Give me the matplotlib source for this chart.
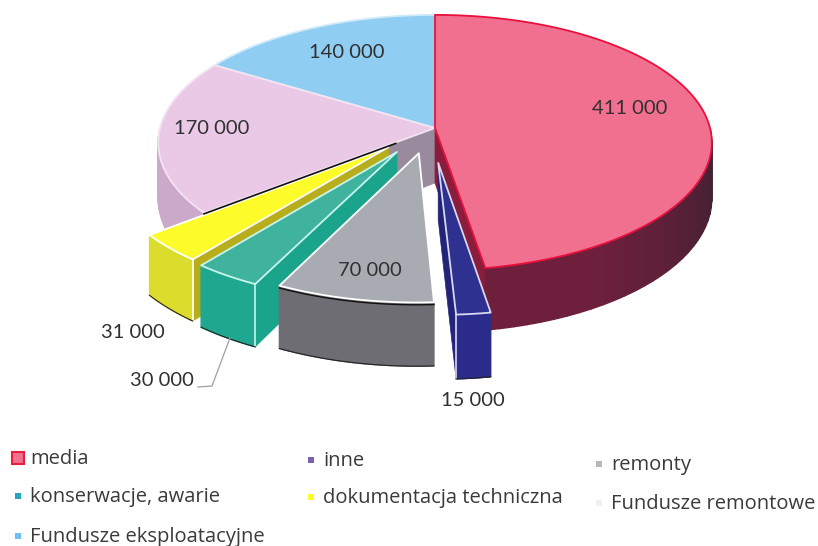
import numpy as np
import matplotlib
matplotlib.use("Agg")
import matplotlib.pyplot as plt
from matplotlib.patches import Polygon, Rectangle

# values clockwise from 12 o'clock
categories = ["media", "inne", "remonty", "konserwacje, awarie",
              "dokumentacja techniczna", "Fundusze remontowe", "Fundusze eksploatacyjne"]
values = [411000, 15000, 70000, 30000, 31000, 170000, 140000]
value_labels = ["411 000", "15 000", "70 000", "30 000", "31 000", "170 000", "140 000"]

explode = [0, 0.27, 0.2, 0.22, 0.21, 0, 0]
top_cols = ["#f2708f", "#2f3190", "#a8acb2", "#40b39f", "#fdfb2a", "#e9c9e6", "#8fcdf3"]
edge_cols = ["#e8103c", "#d8d8f0", "#ffffff", "#c8f4ee", "#ffffff", "#f4e4f2", "#d0eafa"]
wall_near = ["#6e1f3c", "#2b2b8c", "#6e6d73", "#1fa78f", "#dcdc2c", "#cba9ca", "#6aa5cc"]
wall_far = ["#3a2230", "#2b2b8c", "#6e6d73", "#1fa78f", "#dcdc2c", "#d8b8d6", "#6aa5cc"]
side_cols = ["#8a1c3c", "#23237a", "#6e6d73", "#1aa48c", "#b8ae1c", "#9a8a9e", "#6aa5cc"]

label_pos = [(630, 109), (473, 400), (370, 270), (162, 380), (133, 332), (212, 129), (347, 53)]

legend_pos = [(18, 458), (311, 460), (599, 464), (18, 496), (311, 497), (599, 503), (18, 536)]
legend_size = [12, 6, 6, 6, 6, 6, 6]
legend_cols = ["#f2708f", "#7d5fb0", "#b8b8b8", "#25a5c0", "#fdfb2a", "#f0f0f0", "#6fc0ee"]

cx, cy = 435, 128
rx, ry = 275, 126
persp = 0.114
depth = 55
nudge = -0.018  # exploded slices sit a little to the left


def project(u, v, drop=0.0):
    s = 1 / (1 - persp * v)
    return cx + rx * u * s, cy + ry * v * s + drop * s


def rim(t0, t1, off, drop=0.0, n=60):
    th = np.linspace(t0, t1, n)
    u = np.sin(th) + off[0]
    v = -np.cos(th) + off[1]
    x, y = project(u, v, drop)
    return np.column_stack([x, y])


def draw_slice(ax, i, t0, t1):
    mid = (t0 + t1) / 2
    off = (explode[i] * np.sin(mid), -explode[i] * np.cos(mid))
    if explode[i] > 0:
        off = (off[0] + nudge, off[1])
    apex = np.array(project(off[0], off[1]))
    apex_low = np.array(project(off[0], off[1], depth))
    edge = edge_cols[i]

    # cut faces, only the ones turned to the viewer
    for t, visible in ((t0, np.sin(t0) < 0), (t1, np.sin(t1) > 0)):
        if not visible:
            continue
        p = rim(t, t, off, n=1)[0]
        q = rim(t, t, off, depth, n=1)[0]
        ax.add_patch(Polygon([apex, p, q, apex_low], fc=side_cols[i], ec=side_cols[i], lw=0.5))
        if explode[i] > 0:
            ax.plot([p[0], q[0]], [p[1], q[1]], color=edge, lw=1.2)

    # outer wall, front half only
    a, b = max(t0, np.pi / 2), min(t1, 3 * np.pi / 2)
    if b > a:
        n = 30
        ts = np.linspace(a, b, n + 1)
        c0 = np.array(matplotlib.colors.to_rgb(wall_far[i]))
        c1 = np.array(matplotlib.colors.to_rgb(wall_near[i]))
        for k in range(n):
            upper = rim(ts[k], ts[k + 1], off, n=3)
            lower = rim(ts[k], ts[k + 1], off, depth, n=3)
            f = min(1, abs(ts[k] - np.pi / 2) / 1.0)
            col = c0 + (c1 - c0) * f
            ax.add_patch(Polygon(np.vstack([upper, lower[::-1]]), fc=col, ec=col, lw=1.0))
        if explode[i] > 0:
            ax.plot(*rim(a, b, off, depth).T, color="#222222", lw=0.8)
            if i == 2:
                ax.plot(*rim(a, b, off, 2).T, color="#111111", lw=1.0)

    # top face
    top = np.vstack([apex, rim(t0, t1, off, n=120)])
    ax.add_patch(Polygon(top, fc=top_cols[i], ec=edge, lw=1.3, joinstyle="round"))

    # dark shadow line under the lilac slice
    if i == 5:
        p = rim(t0, t0, off, n=1)[0]
        ax.plot([p[0], apex[0] + (p[0] - apex[0]) * 0.17],
                [p[1] + 1, apex[1] + (p[1] - apex[1]) * 0.17 + 1], color="#111111", lw=1.2)


fig = plt.figure(figsize=(8.18, 5.46), dpi=100)
ax = fig.add_axes([0, 0, 1, 1])
ax.set_xlim(0, 818)
ax.set_ylim(546, 0)
ax.axis("off")

plt.rcParams["font.family"] = ["Lato", "DejaVu Sans"]

angles = np.concatenate([[0], np.cumsum(values)]) / np.sum(values) * 2 * np.pi
for i in [6, 5, 0, 4, 3, 2, 1]:
    draw_slice(ax, i, angles[i], angles[i + 1])

# leader line of the 30 000 label
ax.plot([230, 212, 198], [338, 386, 387], color="#a0a0a0", lw=0.9)

for lab, (x, y) in zip(value_labels, label_pos):
    ax.text(x, y, lab, ha="center", va="center", fontsize=14.5, color="#303030")

for name, (x, y), s, c in zip(categories, legend_pos, legend_size, legend_cols):
    if name == "media":
        ax.add_patch(Rectangle((x - s / 2, y - s / 2), s, s, fc=c, ec="#e8203f", lw=1.5))
    else:
        ax.add_patch(Rectangle((x - s / 2, y - s / 2), s, s, fc=c, ec="none"))
    ax.text(x + 12, y + 1, name, ha="left", va="center", fontsize=14.5, color="#3a3a3a",
            family=["Open Sans", "DejaVu Sans"])

fig.savefig("out.png", dpi=100)
